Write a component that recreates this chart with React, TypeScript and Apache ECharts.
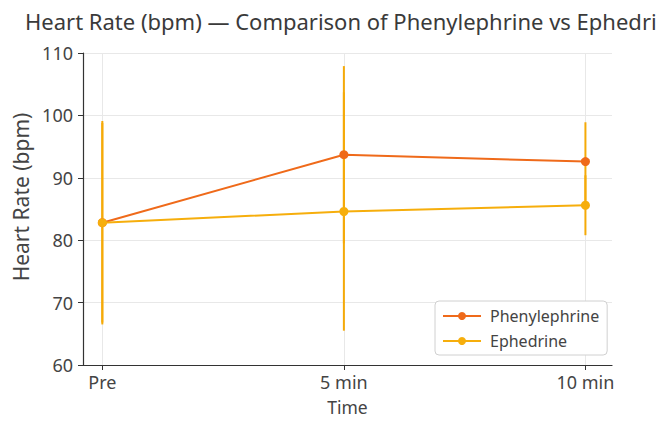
import React, { useEffect, useRef } from "react";
import * as echarts from "echarts";

const timePoints = ["Pre", "5 min", "10 min"];
const phenMean = [82.8, 93.7, 92.6];
const phenSd = [16.0, 14.2, 6.3];
const ephMean = [82.8, 84.6, 85.6];
const ephSd = [16.3, 19.1, 4.8];
const yTicks = [60, 70, 80, 90, 100, 110];

const PHEN = "#EF6A1A";
const EPH = "#F6AE0C";
const ERR = "#F5AA08";
const FONT = "Noto Sans";

export default function App() {
  const ref = useRef<HTMLDivElement>(null);
  useEffect(() => {
    if (!ref.current) return;
    const chart = echarts.init(ref.current, undefined, { renderer: "svg" });
    const xIdx = timePoints.map((_, i) => i);
    const errSeries = (name: string, mean: number[], sd: number[]) => ({
      type: "custom",
      name,
      silent: true,
      z: 1,
      data: xIdx.map((i) => [i, mean[i] - sd[i], mean[i] + sd[i]]),
      renderItem: (_p: any, api: any) => {
        const lo = api.coord([api.value(0), api.value(1)]);
        const hi = api.coord([api.value(0), api.value(2)]);
        return {
          type: "line",
          shape: { x1: lo[0], y1: lo[1], x2: hi[0], y2: hi[1] },
          style: { stroke: ERR, lineWidth: 2 },
        };
      },
    });
    chart.setOption({
      animation: false,
      backgroundColor: "#ffffff",
      textStyle: { fontFamily: FONT },
      title: {
        text: "Heart Rate (bpm) — Comparison of Phenylephrine vs Ephedrine",
        left: 20,
        top: 5,
        textStyle: { fontFamily: FONT, fontSize: 22, fontWeight: "normal", color: "#3a3a3a" },
      },
      grid: { left: 83, right: 45, top: 53, bottom: 55 },
      legend: {
        data: ["Phenylephrine", "Ephedrine"],
        orient: "vertical",
        left: 435,
        top: 301,
        padding: [6, 8, 5, 7],
        itemGap: 7,
        itemWidth: 38,
        itemHeight: 10,
        borderColor: "#d0d0d0",
        borderWidth: 1,
        borderRadius: 4,
        backgroundColor: "#ffffff",
        textStyle: { fontFamily: FONT, fontSize: 16, color: "#444", lineHeight: 18, padding: [0, 0, 0, 4] },
      },
      xAxis: {
        type: "value",
        min: -0.08,
        max: 2.11,
        name: "Time",
        nameLocation: "middle",
        nameGap: 33,
        nameTextStyle: { fontFamily: FONT, fontSize: 17.5, color: "#444" },
        axisLine: { show: true, onZero: false, lineStyle: { color: "#333", width: 1.2 } },
        axisTick: { show: true, length: 5, customValues: xIdx, lineStyle: { color: "#333" } },
        axisLabel: {
          customValues: xIdx,
          fontFamily: FONT,
          fontSize: 18,
          color: "#444",
          margin: 8,
          formatter: (v: number) => timePoints[Math.round(v)] ?? "",
        },
        splitLine: { show: true, lineStyle: { color: "#e8e8e8", width: 1 } },
      },
      yAxis: {
        type: "value",
        min: yTicks[0],
        max: yTicks[yTicks.length - 1],
        interval: 10,
        name: "Heart Rate (bpm)",
        nameLocation: "middle",
        nameGap: 51,
        nameTextStyle: { fontFamily: FONT, fontSize: 21, color: "#444", padding: [0, 0, 0, 24] },
        axisLine: { show: true, onZero: false, lineStyle: { color: "#333", width: 1.2 } },
        axisTick: { show: true, length: 5, lineStyle: { color: "#333" } },
        axisLabel: { fontFamily: FONT, fontSize: 18, color: "#444", margin: 10 },
        splitLine: { show: true, lineStyle: { color: "#e8e8e8", width: 1 } },
      },
      series: [
        errSeries("errPhen", phenMean, phenSd),
        errSeries("errEph", ephMean, ephSd),
        {
          type: "line",
          name: "Phenylephrine",
          z: 3,
          data: xIdx.map((i) => [i, phenMean[i]]),
          symbol: "circle",
          symbolSize: 9,
          lineStyle: { color: PHEN, width: 2 },
          itemStyle: { color: PHEN },
        },
        {
          type: "line",
          name: "Ephedrine",
          z: 4,
          data: xIdx.map((i) => [i, ephMean[i]]),
          symbol: "circle",
          symbolSize: 9,
          lineStyle: { color: EPH, width: 2 },
          itemStyle: { color: EPH },
        },
      ],
    });
    return () => chart.dispose();
  }, []);
  return <div ref={ref} style={{ width: 657, height: 421, position: "fixed", left: 0, top: 0 }} />;
}
